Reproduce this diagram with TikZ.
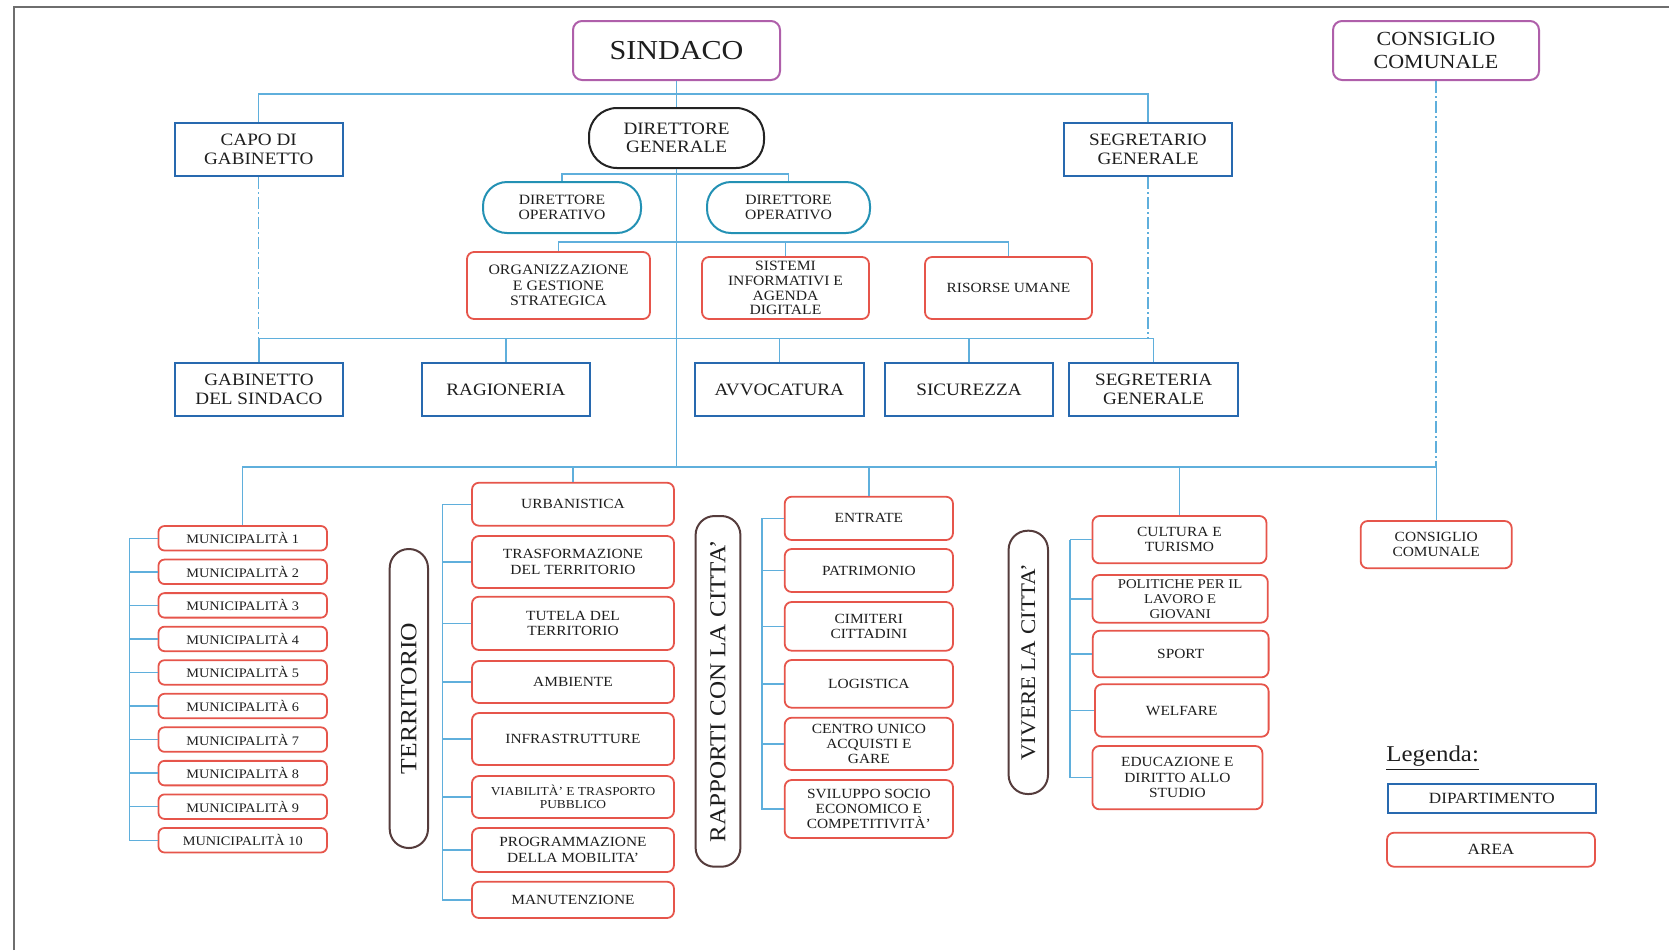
\documentclass[tikz,border=0pt]{standalone}
\usepackage{fontspec}
\setmainfont[FakeStretch=1.1]{Liberation Serif}
\definecolor{lineblue}{RGB}{95,175,220}
\definecolor{deptblue}{RGB}{40,105,175}
\definecolor{areared}{RGB}{230,85,75}
\definecolor{purp}{RGB}{175,95,170}
\definecolor{tealc}{RGB}{35,145,180}
\definecolor{pillc}{RGB}{85,60,60}
\definecolor{dgk}{RGB}{35,35,35}
\definecolor{txt}{RGB}{30,30,30}
\definecolor{framec}{RGB}{110,110,110}
\newcommand\bx[7]{\node[#6,minimum width={(#4-#2)*0.5pt},minimum height={(#5-#3)*0.5pt}] (#1) at ({(#2+#4)/2},{(#3+#5)/2}) {#7};}
\newcommand\pl[7]{\node[pill,rotate=90,#6,minimum width={(#5-#3)*0.5pt},minimum height={(#4-#2)*0.5pt}] (#1) at ({(#2+#4)/2},{(#3+#5)/2}) {#7};}
\tikzset{
  box/.style={align=center,inner sep=0.5pt,text=txt,fill=white},
  conn/.style={draw=lineblue,line width=0.7pt},
  dashc/.style={conn,dash pattern=on 6pt off 1.5pt on 1pt off 1.5pt},
  dept/.style={box,draw=deptblue,line width=1pt},
  area/.style={box,draw=areared,line width=0.9pt,rounded corners=3.5pt},
  pres/.style={box,draw=purp,line width=1pt,rounded corners=4.5pt},
  dgs/.style={box,draw=dgk,line width=1pt,rounded corners=14pt},
  dos/.style={box,draw=tealc,line width=1pt,rounded corners=12pt},
  pill/.style={box,draw=pillc,line width=1pt,rounded corners=9.5pt},
  fdep/.style={font=\fontsize{8.7}{9.4}\selectfont},
  farea/.style={font=\fontsize{7}{7.7}\selectfont},
}
\begin{document}
\begin{tikzpicture}[x=0.5pt,y=-0.5pt]
\useasboundingbox (0,0) rectangle (1669,950);
\draw[framec,line width=1pt] (13.5,950) -- (13.5,7) -- (1669,7);
% top level
\bx{sindaco}{573}{21}{780}{80}{pres,font=\fontsize{13.7}{15}\selectfont}{SINDACO}
\bx{consTop}{1333}{21}{1539}{80}{pres,font=\fontsize{10}{11.5}\selectfont}{CONSIGLIO\\COMUNALE}
\bx{capo}{174.5}{123}{343}{176}{dept,fdep}{CAPO DI\\GABINETTO}
\bx{segr}{1064}{123}{1232}{176}{dept,fdep}{SEGRETARIO\\GENERALE}
\bx{dg}{589}{108}{764}{168}{dgs,font=\fontsize{8.7}{8.9}\selectfont}{DIRETTORE\\GENERALE}
\bx{do1}{483}{182}{641}{233}{dos,font=\fontsize{7.1}{7.3}\selectfont}{DIRETTORE\\OPERATIVO}
\bx{do2}{707}{182}{870}{233}{dos,font=\fontsize{7.1}{7.3}\selectfont}{DIRETTORE\\OPERATIVO}
\bx{org}{467}{252}{650}{319}{area,font=\fontsize{7.2}{7.75}\selectfont}{ORGANIZZAZIONE\\E GESTIONE\\STRATEGICA}
\bx{sis}{702}{257}{869}{319}{area,font=\fontsize{7.1}{7.4}\selectfont}{SISTEMI\\INFORMATIVI E\\AGENDA\\DIGITALE}
\bx{ris}{925}{257}{1092}{319}{area,farea}{RISORSE UMANE}
% departments
\bx{gab}{175}{363}{343}{416}{dept,fdep}{GABINETTO\\DEL SINDACO}
\bx{rag}{422}{363}{590}{416}{dept,fdep}{RAGIONERIA}
\bx{avv}{695}{363}{863.5}{416}{dept,fdep}{AVVOCATURA}
\bx{sic}{885}{363}{1053}{416}{dept,fdep}{SICUREZZA}
\bx{sgg}{1069.4}{363}{1237.8}{416}{dept,fdep}{SEGRETERIA\\GENERALE}
% municipalita
\foreach \i in {1,...,10}{
  \pgfmathsetmacro\yt{526+(\i-1)*33.55}
  \pgfmathsetmacro\yb{\yt+24.5}
  \bx{m\i}{158.5}{\yt}{327}{\yb}{area,rounded corners=3pt,font=\fontsize{6.5}{7}\selectfont}{MUNICIPALITÀ \i}
}
% pills
\pl{terr}{389.7}{549}{428}{848}{font=\fontsize{11.6}{12}\selectfont}{TERRITORIO}
\pl{rapp}{695.6}{516}{740.4}{866.7}{font=\fontsize{11.4}{12}\selectfont}{RAPPORTI CON LA CITTA'}
\pl{viv}{1008.6}{530.7}{1048}{794}{font=\fontsize{10.4}{11}\selectfont}{VIVERE LA CITTA'}
% territorio
\bx{urb}{472}{482.7}{674}{525.7}{area,farea}{URBANISTICA}
\bx{tra}{472}{536}{674}{588}{area,farea}{TRASFORMAZIONE\\DEL TERRITORIO}
\bx{tut}{472}{596.7}{674}{650}{area,farea}{TUTELA DEL\\TERRITORIO}
\bx{amb}{472}{661}{674}{703}{area,farea}{AMBIENTE}
\bx{inf}{472}{713}{674}{765}{area,farea}{INFRASTRUTTURE}
\bx{via}{472}{776}{674}{818}{area,font=\fontsize{6.1}{6.7}\selectfont}{VIABILITÀ' E TRASPORTO\\PUBBLICO}
\bx{pro}{472}{828}{674}{872}{area,farea}{PROGRAMMAZIONE\\DELLA MOBILITA'}
\bx{man}{472}{881.7}{674}{918}{area,farea}{MANUTENZIONE}
% rapporti
\bx{ent}{784.7}{496.7}{953}{540}{area,farea}{ENTRATE}
\bx{pat}{784.7}{549}{953}{592}{area,farea}{PATRIMONIO}
\bx{cim}{784.7}{602}{953}{650.7}{area,farea}{CIMITERI\\CITTADINI}
\bx{log}{784.7}{660}{953}{707.7}{area,farea}{LOGISTICA}
\bx{cen}{784.7}{717.7}{953}{770}{area,farea}{CENTRO UNICO\\ACQUISTI E\\GARE}
\bx{svi}{784.7}{780}{953}{838}{area,farea}{SVILUPPO SOCIO\\ECONOMICO E\\COMPETITIVITÀ'}
% vivere
\bx{cul}{1092.4}{516}{1266.5}{563.3}{area,farea}{CULTURA E\\TURISMO}
\bx{pol}{1092.4}{575}{1267.8}{622.7}{area,font=\fontsize{6.7}{7.4}\selectfont}{POLITICHE PER IL\\LAVORO E\\GIOVANI}
\bx{spo}{1092.8}{630.7}{1268.6}{677.3}{area,farea}{SPORT}
\bx{wel}{1094.9}{684.3}{1268.6}{736.7}{area,farea}{WELFARE}
\bx{edu}{1092.4}{746}{1262.4}{809.3}{area,farea}{EDUCAZIONE E\\DIRITTO ALLO\\STUDIO}
\bx{consBot}{1360.7}{521}{1511.7}{568.3}{area,farea}{CONSIGLIO\\COMUNALE}
% legend
\node[anchor=west,inner sep=0pt,text=txt,font=\fontsize{11.3}{12}\selectfont] (leg) at (1386,758) {\underline{Legenda:}};
\bx{dip}{1388}{784}{1595.7}{813.3}{dept,font=\fontsize{7.8}{8}\selectfont}{DIPARTIMENTO}
\bx{are}{1387}{832.7}{1595}{866.7}{area,font=\fontsize{7.8}{8}\selectfont}{AREA}
% connectors
\coordinate (hTop) at (676.5,94);
\coordinate (hDO) at (676.5,174);
\coordinate (hAr) at (676.5,242);
\coordinate (hDept) at (676.5,338.3);
\coordinate (hLow) at (676.5,467);
\draw[conn] (sindaco.south) -- (dg.north);
\draw[conn] (dg.south) -- (hLow);
\draw[conn] (capo.north) |- (hTop) -| (segr.north);
\draw[conn] (do1.north) |- (hDO) -| (do2.north);
\draw[conn] (org.north) |- (hAr) -| (ris.north);
\draw[conn] (hAr) -| (sis.north);
\draw[dashc] (capo.south) -- (capo.south |- hDept);
\draw[dashc] (segr.south) -- (segr.south |- hDept);
\draw[conn] (gab.north) |- (hDept) -| (sgg.north);
\draw[conn] (hDept) -| (rag.north);
\draw[conn] (hDept) -| (avv.north);
\draw[conn] (hDept) -| (sic.north);
\draw[dashc] (consTop.south) -- (consTop.south |- hLow);
\draw[conn] (m1.north) |- (hLow) -| (consBot.north);
\draw[conn] (hLow) -| (urb.north);
\draw[conn] (hLow) -| (ent.north);
\draw[conn] (hLow) -| (cul.north);
% brackets
\draw[conn] (m1.west) -- ++(-27.9,0) coordinate (mb);
\foreach \i in {2,...,10}{\draw[conn] (mb) |- (m\i.west);}
\draw[conn] (urb.west) -- ++(-28.7,0) coordinate (tb);
\foreach \n in {tra,tut,amb,inf,via,pro,man}{\draw[conn] (tb) |- (\n.west);}
\draw[conn] (ent.west) -- ++(-21.9,0) coordinate (rb);
\foreach \n in {pat,cim,log,cen,svi}{\draw[conn] (rb) |- (\n.west);}
\draw[conn] (cul.west) -- ++(-21.6,0) coordinate (vb);
\foreach \n in {pol,spo,wel,edu}{\draw[conn] (vb) |- (\n.west);}
\end{tikzpicture}
\end{document}
